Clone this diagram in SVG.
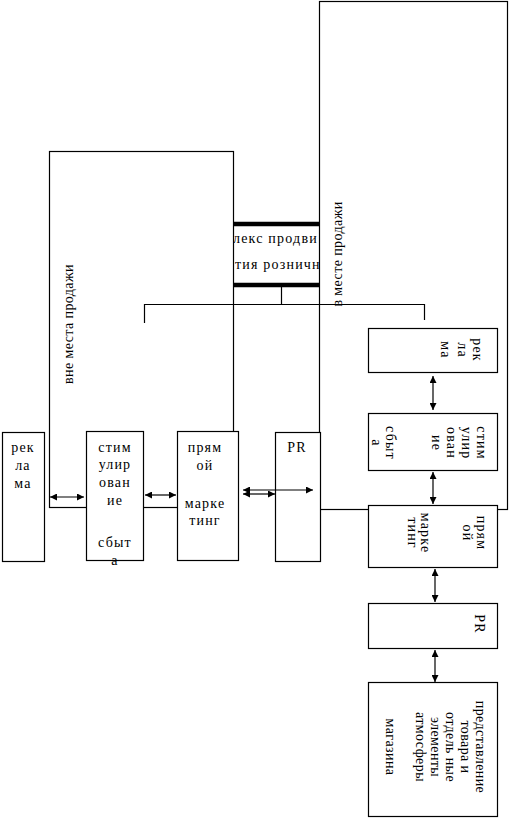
<svg xmlns="http://www.w3.org/2000/svg" width="509" height="820" viewBox="0 0 509 820">
<style>
.box{fill:#fff;stroke:#000;stroke-width:1.2}
.ln{fill:none;stroke:#000;stroke-width:1.2}
.thick{fill:none;stroke:#000;stroke-width:4.5}
.t{font-family:"Liberation Serif","DejaVu Serif",serif;font-size:14px;fill:#000;letter-spacing:1.2px}
.v{letter-spacing:0.4px}
.c{text-anchor:middle}
.arr{fill:none;stroke:#000;stroke-width:1.2;marker-start:url(#ah);marker-end:url(#ah)}
</style>
<defs>
<marker id="ah" viewBox="0 0 10 10" refX="10" refY="5" markerWidth="8" markerHeight="7" orient="auto-start-reverse" markerUnits="userSpaceOnUse"><path d="M0,0 L10,5 L0,10 z" fill="#000"/></marker>
</defs>
<rect width="509" height="820" fill="#fff"/>

<g id="title">
<line class="thick" x1="233" y1="224" x2="320" y2="224"/>
<line class="thick" x1="233" y1="285" x2="320" y2="285"/>
<text class="t" x="233" y="243">лекс продви</text>
<text class="t" x="235" y="269">тия розничнo</text>
</g>

<g id="outside">
<rect class="box" x="49.5" y="151.5" width="184" height="356"/>
<text class="t v c" transform="translate(73,324) rotate(-90)">вне места продажи</text>
</g>

<g id="inside">
<rect class="box" x="319.5" y="1.5" width="188" height="508"/>
<text class="t v c" transform="translate(342,254) rotate(-90)">в месте продажи</text>
</g>

<g id="connectors">
<path class="ln" d="M281.5,287 V304.5 M144.5,323 V304.5 H424.5 V320"/>
<line class="arr" x1="50" y1="497" x2="84" y2="497"/>
<line class="arr" x1="145" y1="495" x2="176" y2="495"/>
<line class="arr" x1="243" y1="494" x2="275" y2="494"/>
<line class="arr" x1="433" y1="376" x2="433" y2="410"/>
<line class="arr" x1="433" y1="472" x2="433" y2="504"/>
<line class="arr" x1="435" y1="569" x2="435" y2="602"/>
<line class="arr" x1="435" y1="650" x2="435" y2="682"/>
</g>

<g id="left-reklama">
<rect class="box" x="2.5" y="432.5" width="42" height="129"/>
<text class="t c" x="23" y="452">рек</text>
<text class="t c" x="23" y="470">ла</text>
<text class="t c" x="23" y="488">ма</text>
</g>

<g id="left-stim">
<rect class="box" x="86.5" y="431.5" width="57" height="129"/>
<text class="t c" x="115" y="452">стим</text>
<text class="t c" x="115" y="469">улир</text>
<text class="t c" x="115" y="487">ован</text>
<text class="t c" x="115" y="505">ие</text>
<text class="t c" x="115" y="547">сбыт</text>
<text class="t c" x="115" y="565">а</text>
</g>

<g id="left-pryam">
<rect class="box" x="177.5" y="431.5" width="61" height="129"/>
<text class="t c" x="205" y="452">прям</text>
<text class="t c" x="205" y="470">ой</text>
<text class="t c" x="205" y="508">марке</text>
<text class="t c" x="205" y="525">тинг</text>
</g>

<g id="left-pr">
<rect class="box" x="275.5" y="432.5" width="45" height="129"/>
<text class="t c" x="297" y="452">PR</text>
</g>

<g id="pr-arrow">
<line class="arr" x1="243" y1="490" x2="313" y2="490"/>
</g>

<g id="right-reklama">
<rect class="box" x="368.5" y="328.5" width="129" height="44"/>
<text class="t c" transform="translate(473,350) rotate(90)">рек</text>
<text class="t c" transform="translate(458,350) rotate(90)">ла</text>
<text class="t c" transform="translate(441,350) rotate(90)">ма</text>
</g>

<g id="right-stim">
<rect class="box" x="368.5" y="413.5" width="129" height="57"/>
<text class="t c" transform="translate(477,443) rotate(90)">стим</text>
<text class="t c" transform="translate(462,443) rotate(90)">улир</text>
<text class="t c" transform="translate(447,443) rotate(90)">ован</text>
<text class="t c" transform="translate(432,443) rotate(90)">ие</text>
<text class="t c" transform="translate(386,443) rotate(90)">сбыт</text>
<text class="t c" transform="translate(372,443) rotate(90)">а</text>
</g>

<g id="right-pryam">
<rect class="box" x="368.5" y="505.5" width="129" height="62"/>
<text class="t c" transform="translate(477,533) rotate(90)">прям</text>
<text class="t c" transform="translate(463,533) rotate(90)">ой</text>
<text class="t c" transform="translate(421,533) rotate(90)">марке</text>
<text class="t c" transform="translate(408,533) rotate(90)">тинг</text>
</g>

<g id="right-pr">
<rect class="box" x="368.5" y="603.5" width="129" height="45"/>
<text class="t c" transform="translate(475,624) rotate(90)">PR</text>
</g>

<g id="right-present">
<rect class="box" x="368.5" y="682.5" width="129" height="134"/>
<text class="t v c" transform="translate(476,747) rotate(90)">представление</text>
<text class="t v c" transform="translate(461,747) rotate(90)">товара и</text>
<text class="t v c" transform="translate(446,747) rotate(90)">отдель ные</text>
<text class="t v c" transform="translate(431,747) rotate(90)">элементы</text>
<text class="t v c" transform="translate(416,747) rotate(90)">атмосферы</text>
<text class="t v c" transform="translate(386,747) rotate(90)">магазина</text>
</g>

<path class="ln" d="M320,509.5 H368 M497,509.5 H507.5"/>
</svg>
